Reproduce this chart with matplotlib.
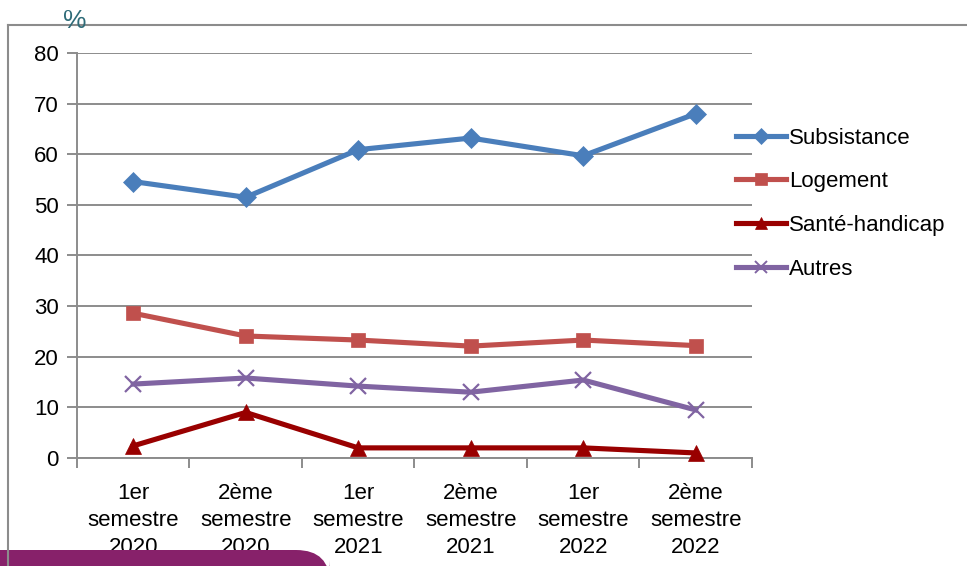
import matplotlib

matplotlib.use("Agg")
import matplotlib.pyplot as plt
from matplotlib.patches import FancyBboxPatch
from matplotlib.lines import Line2D

plt.rcParams["font.family"] = ["Liberation Sans", "DejaVu Sans"]

periods = [
    "1er\nsemestre\n2020",
    "2ème\nsemestre\n2020",
    "1er\nsemestre\n2021",
    "2ème\nsemestre\n2021",
    "1er\nsemestre\n2022",
    "2ème\nsemestre\n2022",
]
subsistance = [54.6, 51.5, 60.9, 63.2, 59.7, 68.0]
logement = [28.6, 24.1, 23.3, 22.1, 23.3, 22.2]
sante_handicap = [2.4, 9.0, 2.0, 2.0, 2.0, 1.0]
autres = [14.6, 15.8, 14.2, 13.0, 15.4, 9.5]

series = [
    ("Subsistance", subsistance, "#4a7ebb", "D", 10),
    ("Logement", logement, "#c0504d", "s", 10),
    ("Santé-handicap", sante_handicap, "#990000", "^", 11),
    ("Autres", autres, "#8064a2", "x", 11),
]

fig = plt.figure(figsize=(9.67, 5.66), dpi=100)
ax = fig.add_axes([0.0796, 0.1908, 0.698, 0.7156])

x = range(len(periods))
for label, values, color, marker, size in series:
    ax.plot(
        x, values, color=color, linewidth=3.7, marker=marker, markersize=size,
        markeredgewidth=1.6 if marker == "x" else 0.5, markeredgecolor=color,
        label=label, clip_on=False, zorder=3,
    )

grid = "#8c8c8c"
ax.set_xlim(-0.5, len(periods) - 0.5)
ax.set_ylim(0, 80)
ax.set_yticks(range(0, 81, 10))
ax.set_xticks([i - 0.5 for i in range(len(periods) + 1)], minor=False)
ax.set_xticklabels([])
ax.set_xticks(list(x), minor=True)
ax.set_xticklabels(periods, minor=True, fontsize=16, linespacing=1.37)
ax.tick_params(axis="x", which="minor", length=0, pad=18)
ax.tick_params(axis="x", which="major", length=7, width=1.4, color=grid)
ax.tick_params(axis="y", length=7, width=1.4, color=grid, labelsize=16, pad=6)
ax.yaxis.grid(True, color=grid, linewidth=1.4)
ax.set_axisbelow(True)
for side in ("top", "right"):
    ax.spines[side].set_visible(False)
for side in ("left", "bottom"):
    ax.spines[side].set_color(grid)
    ax.spines[side].set_linewidth(1.4)

handles = [
    Line2D([], [], color=c, linewidth=3.7, marker=m, markersize=s - 2,
           markeredgewidth=1.4 if m == "x" else 0.5, markeredgecolor=c)
    for _, _, c, m, s in series
]
fig.legend(
    handles, [s[0] for s in series], loc="upper left",
    bbox_to_anchor=(0.740, 0.81), frameon=False, fontsize=16,
    handlelength=2.25, handletextpad=0.15, labelspacing=1.02,
)

# outer frame and the unit label sitting on it
fig.add_artist(Line2D([8 / 967, 8 / 967], [0, 1 - 25 / 566], color=grid,
                      linewidth=1.5, transform=fig.transFigure))
fig.add_artist(Line2D([8 / 967, 1], [1 - 25 / 566, 1 - 25 / 566], color=grid,
                      linewidth=1.5, transform=fig.transFigure))
fig.text(75 / 967, 1 - 21 / 566, "%", color="#2e6b78", fontsize=19,
         ha="center", va="center")

# purple banner peeking in at the bottom
fig.add_artist(FancyBboxPatch(
    (-0.05, -0.05), 0.05 + 330 / 967, 0.05 + 16 / 566,
    boxstyle="round,pad=0,rounding_size=0.035", transform=fig.transFigure,
    facecolor="#87216a", edgecolor="none", mutation_aspect=967 / 566,
))

fig.savefig("out.png", dpi=100)
